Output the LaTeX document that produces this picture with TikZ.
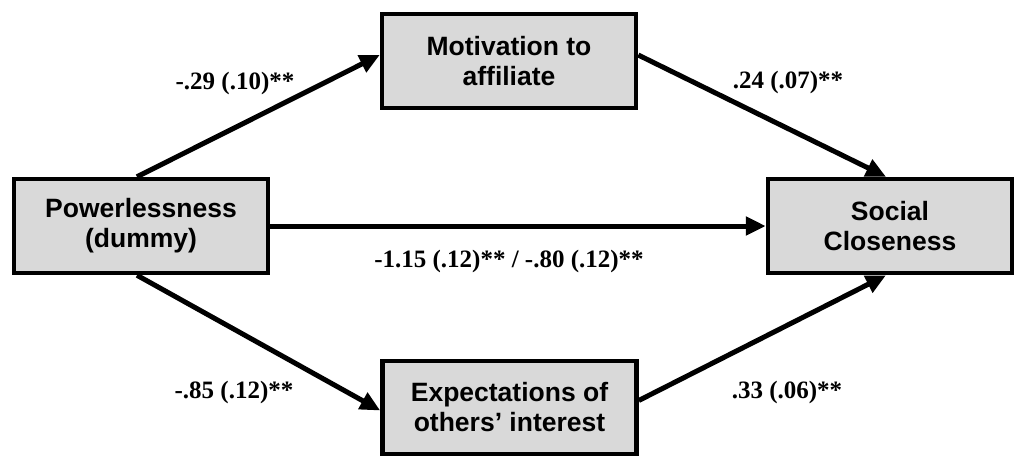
\documentclass[tikz,border=0pt]{standalone}
\usepackage{fontspec}
\setmainfont{Liberation Serif}
\newfontfamily\boxfont{Liberation Sans}
\usetikzlibrary{arrows.meta}
\definecolor{boxgray}{RGB}{217,217,217}
\tikzset{
  varbox/.style={draw=black, fill=boxgray, line width=4.5pt, inner sep=0pt,
    align=center, font=\boxfont\bfseries\fontsize{26.5}{30}\selectfont},
  pathline/.style={line width=5pt, -{Triangle[length=20pt,width=18pt]}},
  coef/.style={font=\bfseries\fontsize{25}{28}\selectfont, inner sep=0pt, anchor=base}
}
\begin{document}
\begin{tikzpicture}[x=1pt,y=-1pt]
\useasboundingbox (0,0) rectangle (1016,456);
\node[varbox, minimum width=254pt, minimum height=94pt] (M) at (509,61) {Motivation to\\affiliate};
\node[varbox, minimum width=254pt, minimum height=94pt] (P) at (141,226) {Powerlessness\\(dummy)};
\node[varbox, minimum width=244pt, minimum height=94pt] (S) at (890,226) {Social\\Closeness};
\node[varbox, minimum width=254pt, minimum height=93pt] (E) at (509.5,407.5) {Expectations of\\others’ interest};
\draw[pathline] ([xshift=-4pt]P.north) -- ([yshift=6pt]M.west);
\draw[pathline] ([yshift=6pt]M.east) -- ([xshift=-4pt]S.north);
\draw[pathline] (P.east) -- (S.west);
\draw[pathline] ([xshift=-4pt]P.south) -- ([yshift=-3pt]E.west);
\draw[pathline] ([yshift=7pt]E.east) -- ([xshift=-4pt]S.south);
\node[coef] (l1) at (235,89) {-.29 (.10)**};
\node[coef] (l2) at (788,88) {.24 (.07)**};
\node[coef] (l3) at (509,267) {-1.15 (.12)** / -.80 (.12)**};
\node[coef] (l4) at (234,398) {-.85 (.12)**};
\node[coef] (l5) at (787,398) {.33 (.06)**};
\end{tikzpicture}
\end{document}
